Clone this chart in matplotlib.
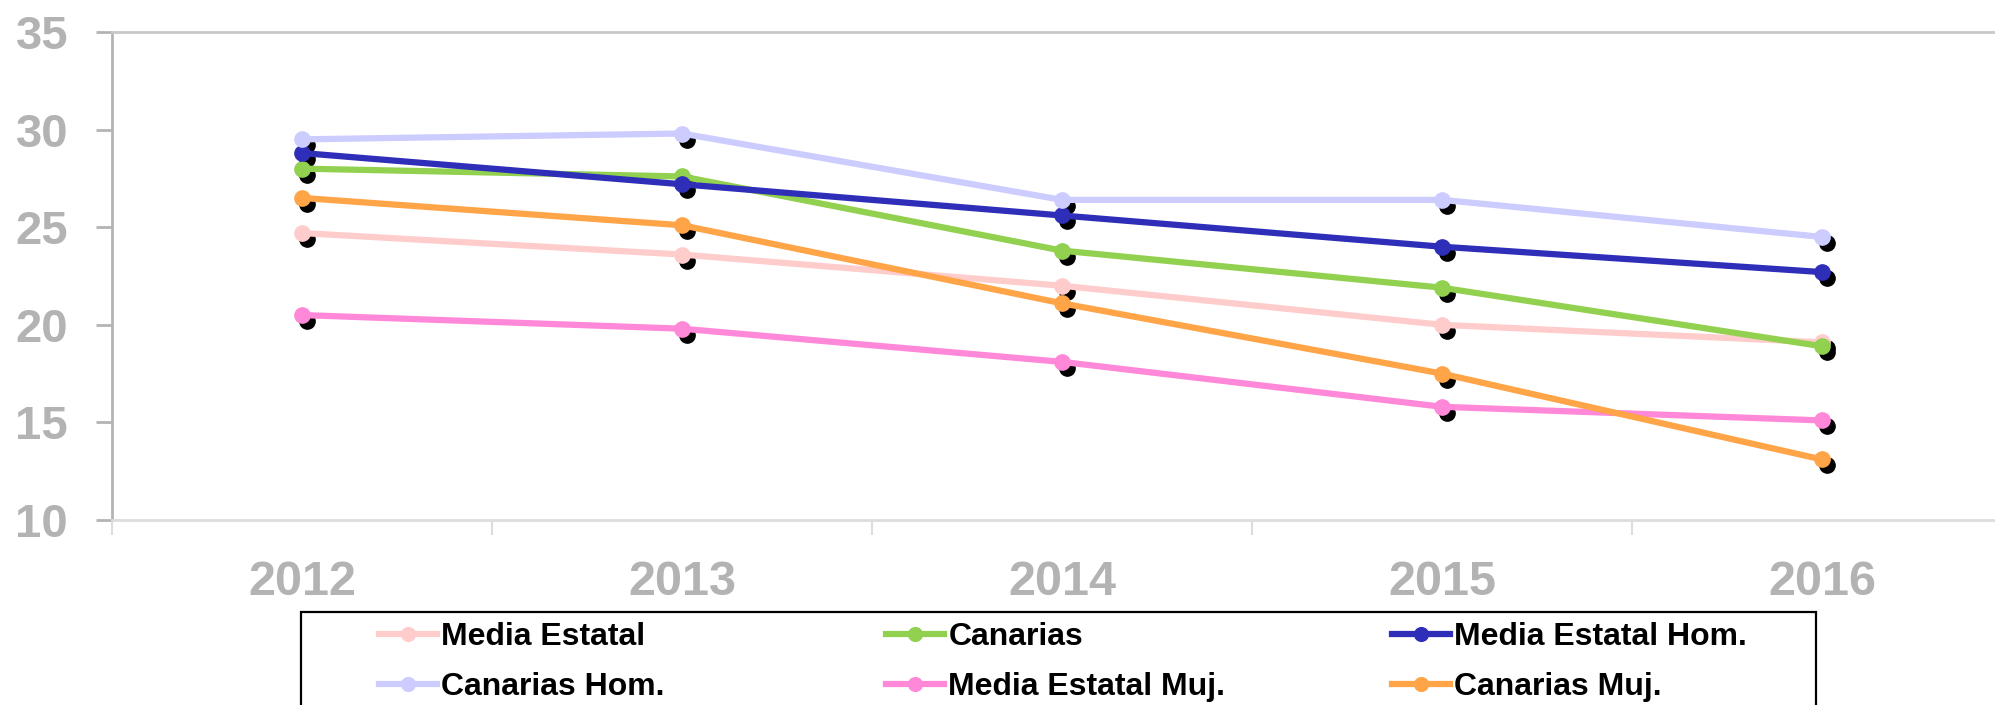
import matplotlib
matplotlib.use("Agg")
import matplotlib.pyplot as plt
import matplotlib.transforms as mtransforms
from matplotlib.patches import Rectangle

plt.rcParams['font.family'] = ['Liberation Sans', 'DejaVu Sans']

# Datos
anios = ['2012', '2013', '2014', '2015', '2016']
media_estatal = [24.7, 23.6, 22.0, 20.0, 19.1]
canarias = [28.0, 27.6, 23.8, 21.9, 18.9]
media_estatal_hom = [28.8, 27.2, 25.6, 24.0, 22.7]
canarias_hom = [29.5, 29.8, 26.4, 26.4, 24.5]
media_estatal_muj = [20.5, 19.8, 18.1, 15.8, 15.1]
canarias_muj = [26.5, 25.1, 21.1, 17.5, 13.1]

series = [
    ('Media Estatal', media_estatal, '#ffcccc'),
    ('Canarias', canarias, '#92d050'),
    ('Media Estatal Hom.', media_estatal_hom, '#2e2eb8'),
    ('Canarias Hom.', canarias_hom, '#ccccff'),
    ('Media Estatal Muj.', media_estatal_muj, '#ff88d8'),
    ('Canarias Muj.', canarias_muj, '#ffa447'),
]

W, H = 1995, 705
fig = plt.figure(figsize=(W / 100, H / 100), dpi=100)
ax = fig.add_axes([112 / W, 1 - 520 / H, 1900 / W, 488 / H])

x = list(range(len(anios)))

# sombra negra de los marcadores, desplazada abajo a la derecha
sombra = ax.transData + mtransforms.ScaledTranslation(0.05, -0.06, fig.dpi_scale_trans)
for nombre, valores, color in series:
    ax.plot(x, valores, lw=0, marker='o', ms=11, color='black', transform=sombra, zorder=2)

handles = []
for nombre, valores, color in series:
    ln, = ax.plot(x, valores, color=color, lw=4.5, marker='o', ms=11, mec=color,
                  zorder=3, label=nombre)
    handles.append(ln)

ax.set_xlim(-0.5, 4.5)
ax.set_ylim(10, 35)
ax.set_yticks(range(10, 36, 5))
ax.set_xticks(x)
ax.set_xticklabels(anios)
ax.set_xticks([i - 0.5 for i in range(len(anios) + 1)], minor=True)

gris = '#b3b3b3'
ax.tick_params(axis='x', which='major', length=0, pad=28.5, labelsize=35, labelcolor=gris)
ax.tick_params(axis='x', which='minor', length=11, width=1.5, color='#dddddd')
ax.tick_params(axis='y', length=11.5, width=2, color='#b4b4b4', pad=20,
               labelsize=34, labelcolor=gris)
for lab in ax.get_xticklabels() + ax.get_yticklabels():
    lab.set_fontweight('bold')

ax.spines['left'].set_color('#b4b4b4')
ax.spines['left'].set_linewidth(2)
ax.spines['top'].set_color('#c8c8c8')
ax.spines['top'].set_linewidth(2)
ax.spines['bottom'].set_color('#dddddd')
ax.spines['bottom'].set_linewidth(2)
ax.spines['right'].set_visible(False)

# Leyenda: tres columnas de ancho fijo dentro de un marco negro
columnas = [[0, 3], [1, 4], [2, 5]]
col_x = [379, 886, 1392]
for cx, idx in zip(col_x, columnas):
    fig.legend([handles[i] for i in idx], [series[i][0] for i in idx],
               loc='center left', bbox_to_anchor=(cx / W, 1 - 662 / H),
               frameon=False, borderpad=0, borderaxespad=0,
               handlelength=1.8, handletextpad=0.15, labelspacing=0.62,
               prop={'weight': 'bold', 'size': 23}, markerscale=0.9)

fig.add_artist(Rectangle((301 / W, 1 - 745 / H), (1816 - 301) / W, (745 - 612) / H,
                         transform=fig.transFigure, fill=False, ec='black', lw=1.6))

fig.savefig('out.png', dpi=100)
